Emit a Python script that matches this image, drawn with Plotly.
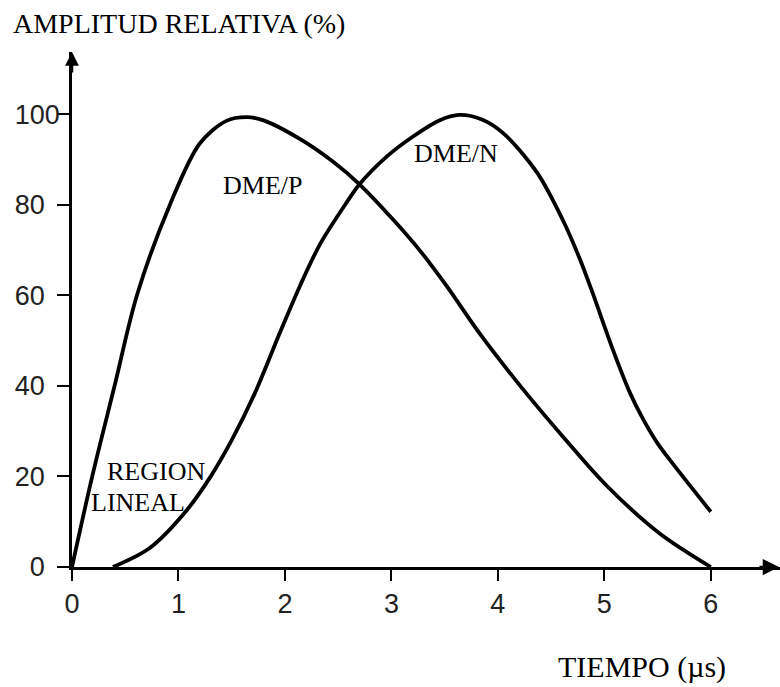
import plotly.graph_objects as go

# DME/P pulse (time in µs, relative amplitude in %)
dmep_t = [0, 0.19, 0.40, 0.61, 0.92, 1.20, 1.45, 1.64, 1.80, 2.14, 2.45, 2.70,
          3.02, 3.27, 3.52, 3.83, 4.21, 4.64, 5.02, 5.52, 6.0]
dmep_a = [0, 20, 40, 60, 80, 93.5, 98.5, 99.3, 98.6, 94.5, 89.5, 84.5,
          76.6, 69.8, 62.0, 51.5, 40.0, 28.0, 18.0, 7.4, 0]

# DME/N pulse
dmen_t = [0.385, 0.73, 1.08, 1.30, 1.50, 1.72, 1.94, 2.14, 2.33, 2.58, 2.70, 2.95, 3.20,
          3.45, 3.64, 3.85, 4.05, 4.37, 4.61, 4.77, 4.89, 5.08, 5.24, 5.36, 5.50, 5.65, 6.0]
dmen_a = [0, 4.2, 12.6, 19.9, 28.0, 38.5, 51.0, 62.0, 71.3, 80.5, 84.5, 90.5, 95.0,
          98.6, 99.8, 98.8, 95.8, 87.0, 76.6, 68.0, 60.5, 48.0, 38.5, 32.8, 27.3, 22.6, 12.2]

x_ticks = [0, 1, 2, 3, 4, 5, 6]
y_ticks = [0, 20, 40, 60, 80, 100]
y_ticktext = ["0\u00a0\u00a0", "20\u00a0\u00a0", "40\u00a0\u00a0", "60\u00a0\u00a0", "80\u00a0\u00a0", "100"]

labels = [
    ("DME/P", 1.79, 84.3),
    ("DME/N", 3.61, 91.4),
    ("REGION", 0.79, 21.0),
    ("LINEAL", 0.62, 14.3),
]

SERIF = "Liberation Serif"
SANS = "Liberation Sans"

fig = go.Figure()
line_style = dict(color="black", width=3.8, shape="spline", smoothing=0.9)
fig.add_trace(go.Scatter(x=dmep_t, y=dmep_a, mode="lines", line=line_style, name="DME/P"))
fig.add_trace(go.Scatter(x=dmen_t, y=dmen_a, mode="lines", line=line_style, name="DME/N"))

for txt, x, y in labels:
    fig.add_annotation(x=x, y=y, xref="x", yref="y", text=txt, showarrow=False,
                       xanchor="center", yanchor="middle",
                       font=dict(family=SERIF, size=26, color="black"))

# x axis title
fig.add_annotation(x=0.805, y=-0.194, xref="paper", yref="paper", text="TIEMPO (µs)",
                   showarrow=False, xanchor="center", yanchor="middle",
                   font=dict(family=SERIF, size=30, color="black"))

# axis arrows
fig.add_annotation(x=1, y=0, xref="paper", yref="paper", ax=-22, ay=0, text="",
                   showarrow=True, arrowhead=2, arrowsize=1.3, arrowwidth=2.5, arrowcolor="black")
fig.add_annotation(x=0, y=1, xref="paper", yref="paper", ax=0, ay=22, text="",
                   showarrow=True, arrowhead=2, arrowsize=1.1, arrowwidth=2.5, arrowcolor="black")

fig.update_layout(
    width=780, height=687, autosize=False,
    margin=dict(l=72, r=0, t=52, b=120),
    plot_bgcolor="white", paper_bgcolor="white",
    showlegend=False,
    title=dict(text="AMPLITUD RELATIVA (%)", x=13 / 780, xanchor="left",
               y=1 - 23 / 687, yanchor="middle", xref="container", yref="container",
               font=dict(family=SERIF, size=28, color="black")),
)
fig.update_xaxes(range=[0, 6.65], automargin=False, showline=True, linecolor="black",
                 linewidth=2.5, showgrid=False, zeroline=False, ticks="outside", ticklen=11,
                 tickwidth=2, tickcolor="black", tickvals=x_ticks,
                 tickfont=dict(family=SANS, size=27, color="#222"))
fig.update_yaxes(range=[0, 113.7], automargin=False, showline=True, linecolor="black",
                 linewidth=2.5, showgrid=False, zeroline=False, ticks="outside", ticklen=12,
                 tickwidth=2, tickcolor="black", tickvals=y_ticks, ticktext=y_ticktext,
                 ticklabelstandoff=-8,
                 tickfont=dict(family=SANS, size=27, color="#222"))

fig.write_html("out.html", config={"displayModeBar": False},
               post_script="document.body.style.margin='0';document.body.style.overflow='hidden';")
